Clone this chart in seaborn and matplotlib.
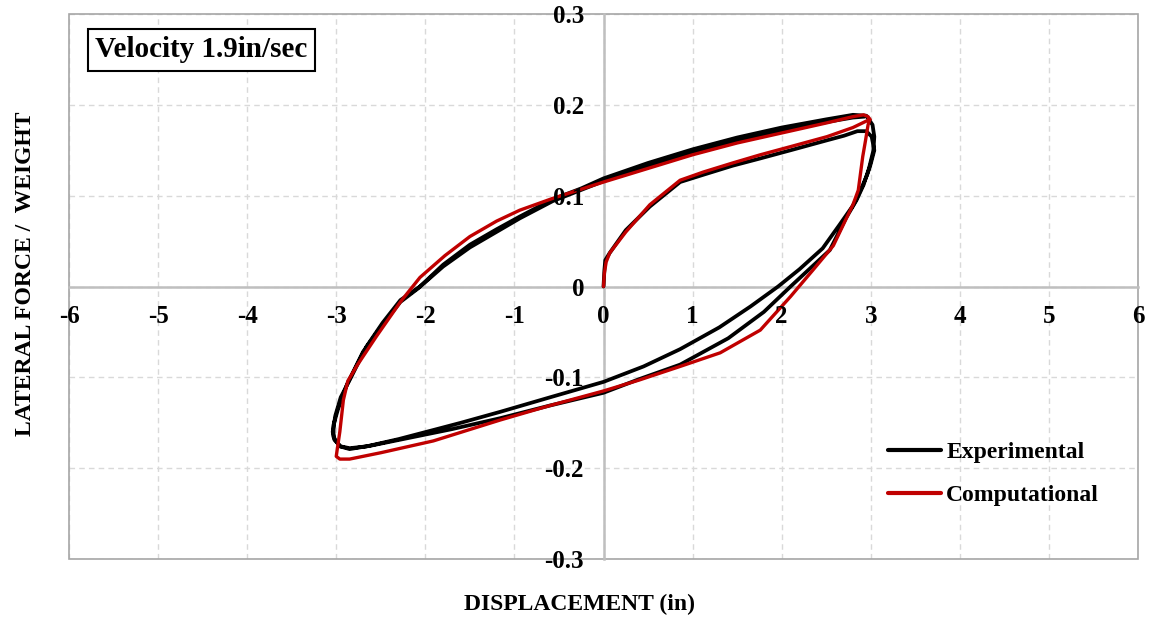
import matplotlib
matplotlib.use("Agg")
import matplotlib.pyplot as plt
from matplotlib.patches import Rectangle
import numpy as np
import pandas as pd
import seaborn as sns

# ---- hysteresis loop data: displacement (in) vs lateral force / weight ----
exp_disp = [
    # initial loading
    0.00, 0.01, 0.02, 0.07, 0.25, 0.52, 0.86, 1.12, 1.45, 1.76, 2.10, 2.51, 2.70, 2.85, 2.95, 3.01,
    # first unloading / reverse loading
    3.04, 3.00, 2.96, 2.88, 2.80, 2.65, 2.46, 2.20, 1.96, 1.65, 1.30, 0.86, 0.45, 0.00, -0.60,
    -1.16, -1.60, -1.91, -2.30, -2.66, -2.85, -2.95, -3.02, -3.04, -3.01, -2.95, -2.85, -2.66,
    -2.48, -2.28, -2.06,
    # first reloading
    -1.80, -1.50, -1.20, -0.94, -0.57, -0.25, 0.00, 0.50, 1.00, 1.50, 2.00, 2.50, 2.80, 2.95,
    3.02, 3.04,
    # second unloading / reverse loading
    3.03, 2.98, 2.92, 2.84, 2.72, 2.54, 2.32, 2.10, 1.80, 1.40, 0.86, 0.40, 0.00, -0.60, -1.16,
    -1.70, -2.20, -2.60, -2.85, -2.96, -3.03, -3.03, -2.98, -2.88, -2.70, -2.48, -2.28, -2.08,
    # second reloading
    -1.80, -1.50, -0.94, -0.57, 0.00, 0.50, 1.00, 1.50, 2.00, 2.50, 2.80, 2.93,
]
exp_force = [
    0.000, 0.018, 0.029, 0.037, 0.062, 0.088, 0.115, 0.123, 0.133, 0.141, 0.150, 0.161, 0.166, 0.171, 0.171, 0.165,
    0.150, 0.135, 0.123, 0.105, 0.089, 0.068, 0.042, 0.019, 0.000, -0.022, -0.045, -0.069, -0.088, -0.105, -0.122,
    -0.138, -0.150, -0.158, -0.168, -0.176, -0.178, -0.176, -0.169, -0.160, -0.142, -0.122, -0.103, -0.066,
    -0.040, -0.015, 0.000,
    0.024, 0.046, 0.063, 0.077, 0.096, 0.108, 0.119, 0.136, 0.151, 0.164, 0.175, 0.184, 0.189, 0.188,
    0.178, 0.165,
    0.150, 0.130, 0.112, 0.095, 0.075, 0.040, 0.020, 0.000, -0.028, -0.057, -0.086, -0.102, -0.117, -0.131, -0.145,
    -0.157, -0.167, -0.175, -0.179, -0.176, -0.166, -0.152, -0.135, -0.108, -0.072, -0.042, -0.017, -0.002,
    0.022, 0.043, 0.075, 0.094, 0.116, 0.133, 0.148, 0.160, 0.171, 0.181, 0.186, 0.187,
]

comp_disp = [
    0.00, 0.01, 0.03, 0.07, 0.25, 0.52, 0.86, 1.12, 1.45, 1.76, 2.10, 2.51, 2.80, 2.99,
    2.97, 2.94, 2.91, 2.86, 2.80, 2.77, 2.58, 2.35, 2.10, 1.76, 1.31, 0.86, 0.40, 0.00, -0.60,
    -1.16, -1.91, -2.50, -2.85, -2.96, -3.00, -2.99, -2.96, -2.92, -2.87, -2.76, -2.55, -2.28,
    -2.06, -1.78, -1.50, -1.20, -0.94, -0.57, 0.00, 0.50, 1.00, 1.50, 2.00, 2.50, 2.80, 2.92,
    2.97, 2.99,
]
comp_force = [
    0.000, 0.015, 0.027, 0.037, 0.060, 0.090, 0.117, 0.126, 0.136, 0.145, 0.154, 0.165, 0.175, 0.184,
    0.178, 0.160, 0.143, 0.106, 0.090, 0.084, 0.045, 0.018, -0.011, -0.048, -0.073, -0.088, -0.103, -0.115, -0.131,
    -0.147, -0.170, -0.183, -0.190, -0.190, -0.187, -0.180, -0.160, -0.125, -0.104, -0.086, -0.055, -0.017,
    0.010, 0.034, 0.055, 0.072, 0.084, 0.097, 0.115, 0.130, 0.145, 0.158, 0.169, 0.180, 0.187, 0.189,
    0.187, 0.184,
]

x_ticks = [-6, -5, -4, -3, -2, -1, 0, 1, 2, 3, 4, 5, 6]
y_ticks = [-0.3, -0.2, -0.1, 0.0, 0.1, 0.2, 0.3]
y_tick_labels = ["-0.3", "-0.2", "-0.1", "0", "0.1", "0.2", "0.3"]

series_names = ["Experimental", "Computational"]
series_colors = {"Experimental": "#000000", "Computational": "#C00000"}

df = pd.concat([
    pd.DataFrame({"disp": exp_disp, "force": exp_force, "series": series_names[0]}),
    pd.DataFrame({"disp": comp_disp, "force": comp_force, "series": series_names[1]}),
], ignore_index=True)

sns.set_style("white")
plt.rcParams["font.family"] = ["Liberation Serif", "DejaVu Serif"]
plt.rcParams["font.weight"] = "bold"
for key in ("text.color", "axes.labelcolor", "xtick.color", "ytick.color",
            "xtick.labelcolor", "ytick.labelcolor"):
    plt.rcParams[key] = "black"

fig = plt.figure(figsize=(11.49, 6.19), dpi=100)
ax = fig.add_axes([69 / 1149, 1 - 559 / 619, 1069 / 1149, 545 / 619])

grid_kw = dict(color="#d9d9d9", lw=1.0, ls=(0, (4, 3)), zorder=0)
for xv in x_ticks:
    ax.axvline(xv, **grid_kw)
for yv in y_ticks:
    ax.axhline(yv, **grid_kw)

sns.lineplot(data=df[df.series == "Experimental"], x="disp", y="force", sort=False,
             estimator=None, color=series_colors["Experimental"], lw=2.7,
             label="Experimental", ax=ax, zorder=2)
sns.lineplot(data=df[df.series == "Computational"], x="disp", y="force", sort=False,
             estimator=None, color=series_colors["Computational"], lw=2.4,
             label="Computational", ax=ax, zorder=2.1)

ax.set_xlim(-6, 6)
ax.set_ylim(-0.3, 0.3)

# axes crossing at the origin
for side in ("top", "right"):
    ax.spines[side].set_visible(False)
ax.spines["left"].set_position("zero")
ax.spines["bottom"].set_position("zero")
for side in ("left", "bottom"):
    ax.spines[side].set_color("#bfbfbf")
    ax.spines[side].set_linewidth(1.8)
    ax.spines[side].set_zorder(1)

# outer frame
ax.add_patch(Rectangle((0, 0), 1, 1, transform=ax.transAxes, fill=False,
                       edgecolor="#a6a6a6", lw=1.2, clip_on=False, zorder=1))

ax.set_xticks(x_ticks)
ax.set_xticklabels([str(v) for v in x_ticks])
ax.set_yticks(y_ticks)
ax.set_yticklabels(y_tick_labels)
ax.tick_params(axis="both", length=0, labelsize=18, labelcolor="black")
ax.tick_params(axis="x", pad=13)
ax.tick_params(axis="y", pad=14)
for lbl in ax.get_xticklabels() + ax.get_yticklabels():
    lbl.set_fontweight("bold")
ax.xaxis.set_zorder(3)
ax.yaxis.set_zorder(3)

ax.set_xlabel("DISPLACEMENT (in)", fontsize=17, fontweight="bold", color="black")
ax.set_ylabel("LATERAL FORCE /  WEIGHT", fontsize=17, fontweight="bold", color="black")
ax.xaxis.set_label_coords(0.478, -0.083)
ax.xaxis.label.set_va("center")
ax.yaxis.set_label_coords(-0.041, 0.523)
ax.yaxis.label.set_va("center")

ax.text(0.0245, 0.934, "Velocity 1.9in/sec", transform=ax.transAxes, ha="left",
        va="center", fontsize=21, fontweight="bold", color="black",
        bbox=dict(boxstyle="square,pad=0.26", fc="white", ec="black", lw=1.5), zorder=5)

leg = ax.legend(loc="center left", bbox_to_anchor=(876 / 1149, 1 - 474 / 619),
                bbox_transform=fig.transFigure, frameon=False, borderpad=0,
                handlelength=2.25, handletextpad=0.22, labelspacing=0.92,
                prop=dict(family="Liberation Serif", weight="bold", size=17))
for text in leg.get_texts():
    text.set_color("black")
for line in leg.get_lines():
    line.set_linewidth(3)

fig.savefig("out.png", dpi=100)
